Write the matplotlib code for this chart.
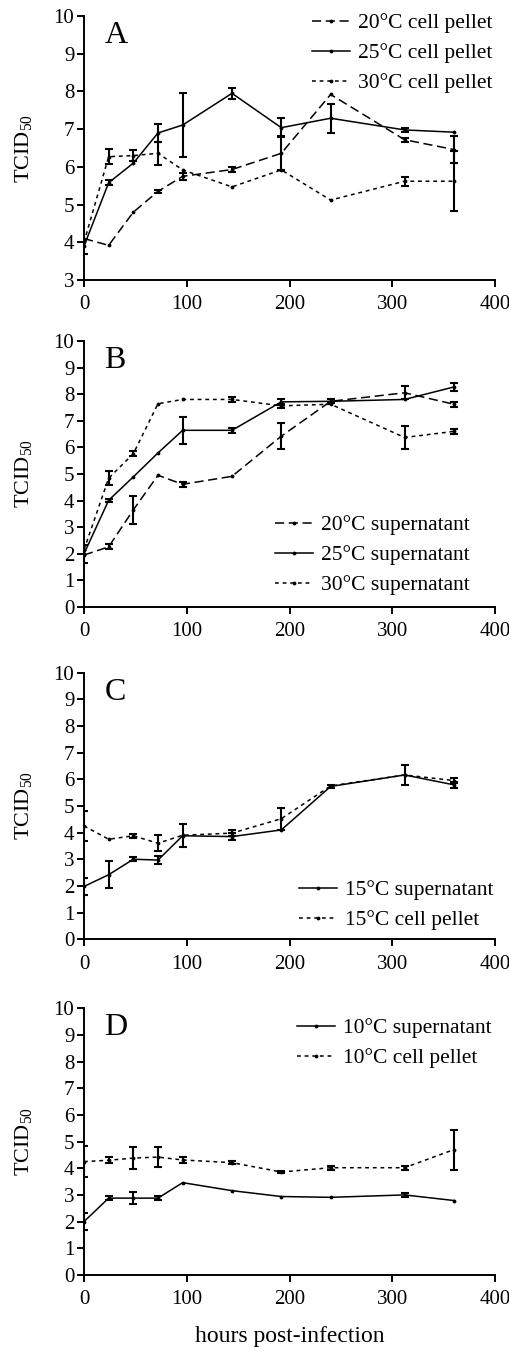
import numpy as np
import matplotlib
matplotlib.use('Agg')
import matplotlib.pyplot as plt

plt.rcParams['font.family'] = ['Liberation Serif', 'DejaVu Serif']
plt.rcParams['mathtext.fontset'] = 'custom'
plt.rcParams['mathtext.rm'] = 'Liberation Serif'

# sampling times (hours post-infection)
hours = [0, 24, 48, 72, 96, 144, 192, 240, 312, 360]
nan = np.nan

# panel A: cell pellet
a_20 = [4.1, 3.92, 4.8, 5.35, 5.75, 5.93, 6.36, 7.92, 6.72, 6.46]
a_20_err = [nan, nan, nan, 0.05, 0.1, 0.07, 0.45, nan, 0.05, 0.35]
a_25 = [3.9, 5.58, 6.1, 6.9, 7.11, 7.95, 7.04, 7.29, 6.98, 6.92]
a_25_err = [0.2, 0.07, nan, 0.25, 0.84, 0.15, 0.25, 0.38, 0.05, nan]
a_30 = [4.0, 6.27, 6.3, 6.36, 5.92, 5.47, 5.92, 5.12, 5.62, 5.62]
a_30_err = [nan, 0.2, 0.15, 0.3, nan, nan, nan, nan, 0.12, 0.8]

# panel B: supernatant
b_20 = [1.95, 2.26, 3.65, 4.95, 4.61, 4.91, 6.42, 7.73, 8.05, 7.62]
b_20_err = [nan, 0.1, 0.52, nan, 0.1, nan, 0.5, nan, 0.25, 0.1]
b_25 = [2.0, 4.01, 4.89, 5.79, 6.64, 6.64, 7.71, 7.73, 7.8, 8.27]
b_25_err = [0.33, 0.05, nan, nan, 0.5, 0.1, 0.1, 0.08, nan, 0.15]
b_30 = [2.15, 4.84, 5.76, 7.64, 7.8, 7.8, 7.56, 7.62, 6.37, 6.6]
b_30_err = [nan, 0.27, 0.1, nan, nan, 0.1, 0.08, nan, 0.42, 0.1]

# panel C: 15 C
c_sup = [1.98, 2.42, 3.0, 2.97, 3.88, 3.85, 4.1, 5.73, 6.16, 5.79]
c_sup_err = [0.33, 0.5, 0.07, 0.15, 0.43, 0.13, nan, 0.05, 0.38, 0.1]
c_pel = [4.25, 3.75, 3.88, 3.6, 3.9, 3.98, 4.52, 5.75, 6.16, 5.95]
c_pel_err = [0.57, nan, 0.07, 0.3, nan, 0.1, 0.42, nan, nan, 0.1]

# panel D: 10 C
d_sup = [2.0, 2.88, 2.88, 2.88, 3.46, 3.16, 2.94, 2.91, 3.0, 2.79]
d_sup_err = [0.33, 0.07, 0.22, 0.07, nan, nan, nan, nan, 0.08, nan]
d_pel = [4.25, 4.3, 4.38, 4.42, 4.31, 4.21, 3.86, 4.02, 4.02, 4.7]
d_pel_err = [0.58, 0.12, 0.42, 0.38, 0.1, 0.06, 0.05, 0.08, 0.08, 0.75]

long_dash = (0, (6, 3))
short_dash = (0, (2.5, 2.5))
solid = '-'

W, H = 510, 1347

# legend upper-left corners in pixels (x, y from top)
panels = [
    ('A', 3, [(a_20, a_20_err, long_dash, '20°C cell pellet'),
              (a_25, a_25_err, solid, '25°C cell pellet'),
              (a_30, a_30_err, short_dash, '30°C cell pellet')], (312, 13)),
    ('B', 0, [(b_20, b_20_err, long_dash, '20°C supernatant'),
              (b_25, b_25_err, solid, '25°C supernatant'),
              (b_30, b_30_err, short_dash, '30°C supernatant')], (275, 515)),
    ('C', 0, [(c_sup, c_sup_err, solid, '15°C supernatant'),
              (c_pel, c_pel_err, short_dash, '15°C cell pellet')], (299, 880)),
    ('D', 0, [(d_sup, d_sup_err, solid, '10°C supernatant'),
              (d_pel, d_pel_err, short_dash, '10°C cell pellet')], (297, 1018)),
]

fig = plt.figure(figsize=(W / 100, H / 100), dpi=100)
bottoms = [0.7921, 0.5494, 0.3027, 0.0535]
heights = [0.196, 0.1975, 0.198, 0.198]

for (letter, ymin, series, leg_xy), b, h in zip(panels, bottoms, heights):
    ax = fig.add_axes([0.1647, b, 0.806, h])
    for vals, errs, ls, lab in series:
        vals = np.array(vals)
        errs = np.array(errs)
        ax.plot(hours, vals, color='black', ls=ls, lw=1.1, marker='.',
                ms=3.5, label=lab)
        m = ~np.isnan(errs)
        ax.errorbar(np.array(hours)[m], vals[m], yerr=errs[m], fmt='none',
                    ecolor='black', elinewidth=1.5, capsize=2.8,
                    capthick=1.5)
    ax.set_xlim(0, 400)
    ax.set_ylim(ymin, 10)
    ax.set_xticks([0, 100, 200, 300, 400])
    ax.set_yticks(range(ymin, 11))
    ax.spines['top'].set_visible(False)
    ax.spines['right'].set_visible(False)
    for s in ('left', 'bottom'):
        ax.spines[s].set_linewidth(1.4)
    ax.tick_params(direction='out', length=5, width=1.4, labelsize=15)
    ax.tick_params(axis='x', pad=6)
    ax.tick_params(axis='y', pad=2)
    ax.set_ylabel(r'TCID$_{\mathregular{50}}$', fontsize=16)
    ax.yaxis.set_label_coords(-0.12, 0.5)
    ax.text(0.05, 0.898, letter, transform=ax.transAxes, fontsize=23)
    ax.legend(frameon=False, fontsize=15.5, handlelength=1.75,
              handletextpad=0.4, labelspacing=0.47, borderaxespad=0.0,
              borderpad=0.0, loc='upper left',
              bbox_to_anchor=(leg_xy[0] / W, 1 - leg_xy[1] / H),
              bbox_transform=fig.transFigure)
    if letter == 'D':
        ax.set_xlabel('hours post-infection', fontsize=17, labelpad=12)

fig.savefig('out.png', dpi=100)
